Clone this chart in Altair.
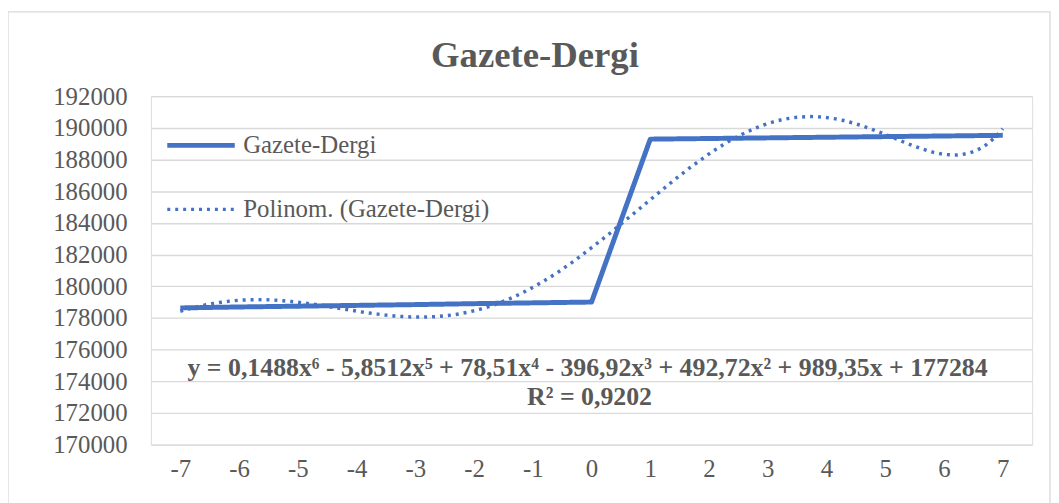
import altair as alt
import pandas as pd

# ---- data ----
x_vals = [-7, -6, -5, -4, -3, -2, -1, 0, 1, 2, 3, 4, 5, 6, 7]
y_vals = [178630, 178690, 178740, 178790, 178840, 178900, 178950, 179000,
          189290, 189330, 189370, 189410, 189450, 189490, 189530]
series_names = ["Gazete-Dergi", "Polinom. (Gazete-Dergi)"]
y_ticks = list(range(170000, 192001, 2000))
title_text = "Gazete-Dergi"
equation_text = "y = 0,1488x\u2076 - 5,8512x\u2075 + 78,51x\u2074 - 396,92x\u00b3 + 492,72x\u00b2 + 989,35x + 177284"
r2_text = "R\u00b2 = 0,9202"

df = pd.DataFrame({"x": x_vals, "y": y_vals, "series": [series_names[0]] * len(x_vals)})

FONT = "Liberation Serif"
GRAY = "#595959"
BLUE = "#4472C4"

legend = alt.Legend(
    title=None, orient="none", legendX=14, legendY=13,
    symbolType="stroke", symbolSize=4624, labelFont=FONT, labelFontSize=25,
    labelColor=GRAY, labelLimit=500, rowPadding=15, labelOffset=6,
)

X = alt.X("x:Q", title=None,
          scale=alt.Scale(domain=[-7.5, 7.5], nice=False, zero=False),
          axis=alt.Axis(values=x_vals, grid=False, domain=False, ticks=False,
                        labelExpr="'' + datum.value", labelPadding=12,
                        labelFont=FONT, labelFontSize=25, labelColor=GRAY))
Y = alt.Y("y:Q", title=None,
          scale=alt.Scale(domain=[170000, 192000], nice=False, zero=False),
          axis=alt.Axis(values=y_ticks, format="d", domain=False, ticks=False,
                        gridColor="#d9d9d9", gridWidth=1.3, labelPadding=24,
                        labelFont=FONT, labelFontSize=25, labelColor=GRAY))

color = alt.Color("series:N", scale=alt.Scale(domain=series_names, range=[BLUE, BLUE]), legend=legend)
dash = alt.StrokeDash("series:N", scale=alt.Scale(domain=series_names, range=[[1, 0], [3, 5]]), legend=legend)
width = alt.StrokeWidth("series:N", scale=alt.Scale(domain=series_names, range=[5, 3.5]), legend=legend)

base = alt.Chart(df)

data_line = base.mark_line(strokeJoin="round").encode(
    x=X, y=Y, color=color, strokeDash=dash, strokeWidth=width)

trend = base.transform_regression(
    "x", "y", method="poly", order=6, extent=[-7, 7]
).transform_calculate(series="'" + series_names[1] + "'").mark_line().encode(
    x=X, y=Y, color=color, strokeDash=dash, strokeWidth=width)

border = alt.Chart(pd.DataFrame({"k": [0]})).mark_rect(
    fill=None, stroke="#d9d9d9", strokeWidth=1.3
).encode(x=alt.value(-144), x2=alt.value(906), y=alt.value(-85), y2=alt.value(420))

title = alt.Chart(pd.DataFrame({"t": [title_text]})).mark_text(
    font=FONT, fontSize=37, fontWeight="bold", color=GRAY, align="center", baseline="alphabetic"
).encode(text="t:N", x=alt.value(387), y=alt.value(-29))

eq = alt.Chart(pd.DataFrame({"t": [equation_text]})).mark_text(
    font=FONT, fontSize=26, fontWeight="bold", color=GRAY, align="center", baseline="alphabetic"
).encode(text="t:N", x=alt.value(440), y=alt.value(282))

r2 = alt.Chart(pd.DataFrame({"t": [r2_text]})).mark_text(
    font=FONT, fontSize=26, fontWeight="bold", color=GRAY, align="center", baseline="alphabetic"
).encode(text="t:N", x=alt.value(442), y=alt.value(311))

chart = alt.layer(border, data_line, trend, title, eq, r2).properties(
    width=888, height=351,
    autosize=alt.AutoSizeParams(type="none"),
    padding={"left": 144, "top": 87, "right": 19, "bottom": 60},
).configure_view(stroke=None).configure(background="white")

chart.save("out.html", embed_options={"renderer": "svg", "actions": False})
